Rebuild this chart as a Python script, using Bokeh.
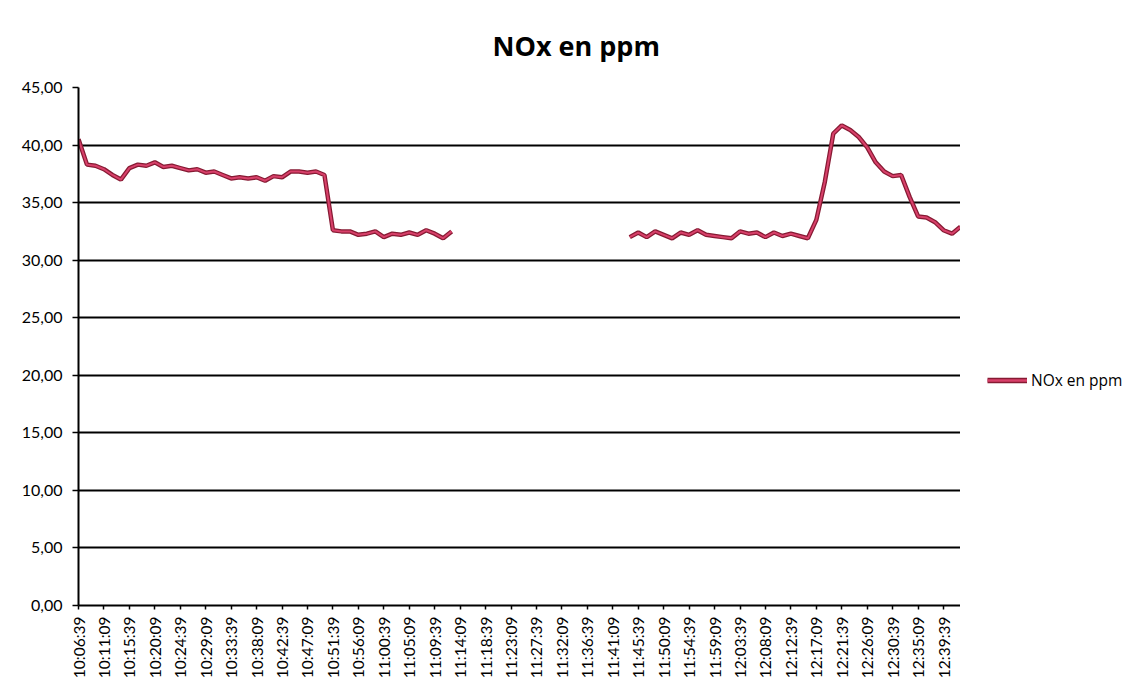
import math
from bokeh.plotting import figure
from bokeh.layouts import row
from bokeh.models import ColumnDataSource, Range1d, FixedTicker, Legend, LegendItem
from bokeh.embed import file_html
from bokeh.resources import INLINE

title_text = "NOx en ppm"
series_name = "NOx en ppm"

tick_labels = [
    "10:06:39", "10:11:09", "10:15:39", "10:20:09", "10:24:39", "10:29:09",
    "10:33:39", "10:38:09", "10:42:39", "10:47:09", "10:51:39", "10:56:09",
    "11:00:39", "11:05:09", "11:09:39", "11:14:09", "11:18:39", "11:23:09",
    "11:27:39", "11:32:09", "11:36:39", "11:41:09", "11:45:39", "11:50:09",
    "11:54:39", "11:59:09", "12:03:39", "12:08:09", "12:12:39", "12:17:09",
    "12:21:39", "12:26:09", "12:30:39", "12:35:09", "12:39:39",
]
tick_step_s = 270      # seconds between labelled categories
sample_step_s = 90     # seconds between samples

# NOx readings (ppm), one per sample; None = no data
nox = [
    40.5, 38.3, 38.2, 37.9, 37.4, 37.0, 38.0, 38.3, 38.2, 38.5,
    38.1, 38.2, 38.0, 37.8, 37.9, 37.6, 37.7, 37.4, 37.1, 37.2,
    37.1, 37.2, 36.9, 37.3, 37.2, 37.7, 37.7, 37.6, 37.7, 37.4,
    32.6, 32.5, 32.5, 32.2, 32.3, 32.5, 32.0, 32.3, 32.2, 32.4,
    32.2, 32.6, 32.3, 31.9, 32.5,
    None, None, None, None, None, None, None, None, None, None,
    None, None, None, None, None, None, None, None, None, None,
    32.0, 32.4, 32.0, 32.5, 32.2, 31.9, 32.4, 32.2, 32.6, 32.2,
    32.1, 32.0, 31.9, 32.5, 32.3, 32.4, 32.0, 32.4, 32.1, 32.3,
    32.1, 31.9, 33.5, 36.8, 41.0, 41.7, 41.3, 40.7, 39.8, 38.5,
    37.7, 37.3, 37.4, 35.5, 33.8, 33.7, 33.3, 32.6, 32.3, 32.9,
]

y_ticks = [0, 5, 10, 15, 20, 25, 30, 35, 40, 45]
y_labels = ["0,00", "5,00", "10,00", "15,00", "20,00", "25,00",
            "30,00", "35,00", "40,00", "45,00"]

t = [i * sample_step_s for i in range(len(nox))]
vals = [float("nan") if v is None else v for v in nox]
src = ColumnDataSource(dict(t=t, v=vals))

FW, FH = 882, 518
H = 695
p = figure(frame_width=FW, frame_height=FH, output_backend="svg", toolbar_location=None,
           x_range=Range1d(0, t[-1]), y_range=Range1d(0, 45),
           min_border_left=78, min_border_right=0,
           min_border_top=87, min_border_bottom=H - 87 - FH)
p.outline_line_color = None
p.background_fill_color = "white"
p.border_fill_color = "white"

p.title.text = title_text
p.title.align = "left"
p.title.offset = 414
p.title.standoff = 48
p.title.text_font = "Open Sans"
p.title.text_font_style = "bold"
p.title.text_font_size = "27px"
p.title.text_color = "black"

# X axis
xticks = [k * tick_step_s for k in range(len(tick_labels))]
p.xaxis.ticker = FixedTicker(ticks=xticks)
p.xaxis.major_label_overrides = {xt: lab for xt, lab in zip(xticks, tick_labels)}
p.xaxis.major_label_orientation = math.pi / 2
p.xaxis.major_label_text_font = "Lato"
p.xaxis.major_label_text_font_size = "15.5px"
p.xaxis.major_label_text_color = "black"
p.xaxis.major_tick_out = 4
p.xaxis.major_tick_in = 0
p.xaxis.major_label_standoff = 7

# Y axis
p.yaxis.ticker = FixedTicker(ticks=y_ticks)
p.yaxis.major_label_overrides = {yt: lab for yt, lab in zip(y_ticks, y_labels)}
p.yaxis.major_label_text_font = "Lato"
p.yaxis.major_label_text_font_size = "16px"
p.yaxis.major_label_text_color = "black"
p.yaxis.major_tick_out = 6
p.yaxis.major_tick_in = 0
p.yaxis.major_label_standoff = 10

for ax in (p.xaxis, p.yaxis):
    ax.axis_line_color = "black"
    ax.axis_line_width = 2
    ax.major_tick_line_color = "black"
    ax.major_tick_line_width = 1.5
    ax.minor_tick_line_color = None

p.xgrid.visible = False
p.ygrid.grid_line_color = "black"
p.ygrid.grid_line_width = 2

line_outer = dict(line_color="#861a33", line_width=4.5)
line_inner = dict(line_color="#d8406a", line_width=2)
p.line("t", "v", source=src, **line_outer)
p.line("t", "v", source=src, **line_inner)

# Legend panel to the right of the chart (its frame lines up with the chart frame)
LW = 170
lf = figure(width=LW, height=H, output_backend="svg", toolbar_location=None,
            x_range=Range1d(0, 1), y_range=Range1d(0, 1),
            x_axis_location=None, y_axis_location=None,
            min_border_left=0, min_border_right=0, min_border_top=0, min_border_bottom=0)
lf.outline_line_color = None
lf.xgrid.visible = False
lf.ygrid.visible = False
lf.border_fill_color = "white"
offscreen = ColumnDataSource(dict(x=[5, 6], y=[5, 5]))
l1 = lf.line("x", "y", source=offscreen, line_color="#861a33", line_width=5.5)
l2 = lf.line("x", "y", source=offscreen, line_color="#d8406a", line_width=2.5)
legend = Legend(items=[LegendItem(label=series_name, renderers=[l1, l2])],
                location=(27, 605 - 382 - 9), orientation="vertical")
legend.border_line_color = None
legend.background_fill_alpha = 0
legend.padding = 0
legend.margin = 0
legend.glyph_width = 40
legend.glyph_height = 18
legend.label_standoff = 4
legend.label_text_font = "Open Sans"
legend.label_text_font_size = "15.5px"
legend.label_text_color = "black"
legend.label_height = 18
lf.add_layout(legend)

layout = row(p, lf)
open("out.html", "w").write(file_html(layout, INLINE))
